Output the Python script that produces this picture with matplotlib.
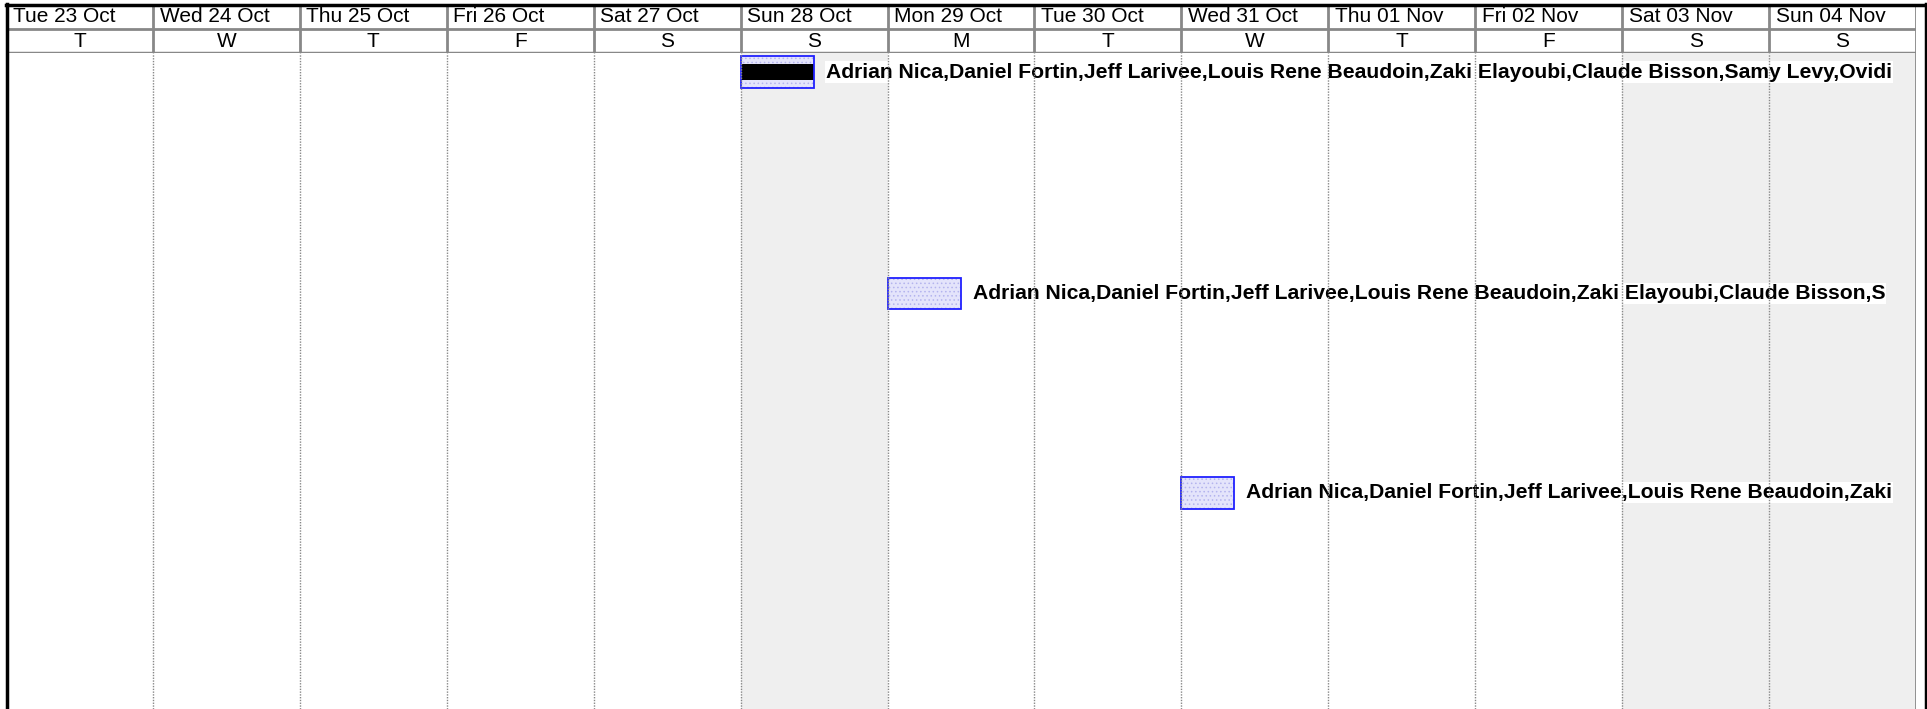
import matplotlib
matplotlib.use("Agg")
import matplotlib.pyplot as plt
from matplotlib.lines import Line2D

plt.rcParams['font.family'] = ['Liberation Sans', 'DejaVu Sans']
plt.rcParams['hatch.linewidth'] = 0.6

# timeline: one column per day
day_labels = ['Tue 23 Oct', 'Wed 24 Oct', 'Thu 25 Oct', 'Fri 26 Oct', 'Sat 27 Oct',
              'Sun 28 Oct', 'Mon 29 Oct', 'Tue 30 Oct', 'Wed 31 Oct', 'Thu 01 Nov',
              'Fri 02 Nov', 'Sat 03 Nov', 'Sun 04 Nov']
day_letters = ['T', 'W', 'T', 'F', 'S', 'S', 'M', 'T', 'W', 'T', 'F', 'S', 'S']
shaded_days = [5, 11, 12]

# tasks (start / duration in days from Tue 23 Oct, row index)
task_start = [5.0, 6.0, 8.0]
task_dur = [0.5, 0.5, 0.36]
task_progress = [1.0, 0.0, 0.0]
task_row = [0, 10, 19]
task_text = [
    'Adrian Nica,Daniel Fortin,Jeff Larivee,Louis Rene Beaudoin,Zaki Elayoubi,Claude Bisson,Samy Levy,Ovidi',
    'Adrian Nica,Daniel Fortin,Jeff Larivee,Louis Rene Beaudoin,Zaki Elayoubi,Claude Bisson,S',
    'Adrian Nica,Daniel Fortin,Jeff Larivee,Louis Rene Beaudoin,Zaki',
]

W, H = 1927, 709
fig = plt.figure(figsize=(W / 100, H / 100), dpi=100)

x0, x1 = 6, 1916
hdr_top, hdr_bot = 5, 53
ndays = len(day_labels)

hdr = fig.add_axes([x0 / W, 1 - hdr_bot / H, (x1 - x0) / W, (hdr_bot - hdr_top) / H])
body = fig.add_axes([x0 / W, 0, (x1 - x0) / W, 1 - hdr_bot / H])

# header
hdr.set_xlim(0, ndays)
hdr.set_ylim(2, 0)
hdr.axis('off')
for i, (lab, let) in enumerate(zip(day_labels, day_letters)):
    hdr.text(i + 0.045, 0.5, lab, ha='left', va='center', fontsize=15)
    hdr.text(i + 0.5, 1.52, let, ha='center', va='center', fontsize=15)
for i in range(1, ndays + 1):
    hdr.axvline(i, color='#888888', lw=2)
hdr.axhline(1, color='#888888', lw=2)
hdr.axhline(2, color='#888888', lw=2.5)

# body
row_px = 22.15
body_h = H - hdr_bot
body.set_xlim(0, ndays)
top_off = 0.36
body.set_ylim(body_h / row_px - top_off, -top_off)
body.axis('off')

for d in shaded_days:
    body.axvspan(d, d + 1, color='#efefef', lw=0, zorder=0)
for i in range(1, ndays):
    body.axvline(i, color='#888888', lw=1, ls=(0, (1, 1)), zorder=5)
body.axvline(ndays, color='#888888', lw=2, zorder=5)

ys = [r + 0.5 for r in task_row]
bar_h = 1.44
body.barh(ys, task_dur, left=task_start, height=bar_h, color='#e4e4fb',
          hatch='....', edgecolor='#b4b4ee', lw=0, zorder=2)
done = [d * p for d, p in zip(task_dur, task_progress)]
body.barh(ys, done, left=task_start, height=bar_h / 2, color='black', lw=0, zorder=2.5)
body.barh(ys, task_dur, left=task_start, height=bar_h, fill=False,
          edgecolor='#2020ff', lw=1.3, zorder=3)

for s, d, y, txt in zip(task_start, task_dur, ys, task_text):
    body.annotate(txt, xy=(s + d, y), xytext=(8.5, 0), textcoords='offset points',
                  ha='left', va='center', fontsize=15.2, fontweight='bold', zorder=4,
                  bbox=dict(boxstyle='square,pad=0.05', fc='white', ec='none'))

# outer frame
fig.add_artist(Line2D([x0 / W, 1], [1 - 5 / H, 1 - 5 / H], transform=fig.transFigure,
                      color='black', lw=2.5))
fig.add_artist(Line2D([7 / W, 7 / W], [0, 1 - 4 / H], transform=fig.transFigure,
                      color='black', lw=2.5))
fig.add_artist(Line2D([1925.5 / W, 1925.5 / W], [0, 1 - 4 / H], transform=fig.transFigure,
                      color='black', lw=2.5))

fig.savefig('out.png', dpi=100)
